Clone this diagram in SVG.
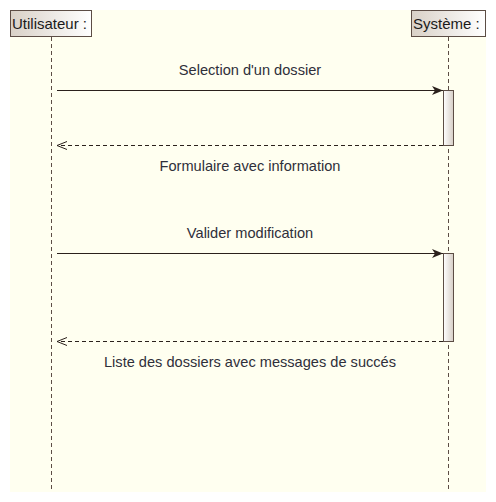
<svg xmlns="http://www.w3.org/2000/svg" width="496" height="502" viewBox="0 0 496 502">
<defs>
<linearGradient id="hdr" x1="0" y1="0" x2="1" y2="0">
<stop offset="0" stop-color="#d9d1c7"/>
<stop offset="1" stop-color="#ffffff"/>
</linearGradient>
<linearGradient id="act" x1="0" y1="0" x2="1" y2="0">
<stop offset="0" stop-color="#ffffff"/>
<stop offset="1" stop-color="#d6cec6"/>
</linearGradient>
<marker id="filled" markerWidth="12" markerHeight="10" refX="11" refY="5" orient="auto" markerUnits="userSpaceOnUse">
<path d="M0,0.5 L11,5 L0,9.5 L3,5 Z" fill="#2b211c"/>
</marker>
<marker id="open" markerWidth="12" markerHeight="10" refX="11" refY="5" orient="auto" markerUnits="userSpaceOnUse">
<path d="M1,1 L11,5 L1,9" fill="none" stroke="#2b211c" stroke-width="1"/>
</marker>
</defs>
<style>
.lbl{font-family:"Liberation Sans",Arial,sans-serif;font-size:14.6px;fill:#2f2f3a;text-anchor:middle}
.hd{font-family:"Liberation Sans",Arial,sans-serif;font-size:15px;fill:#1a1a1a}
.life{stroke:#5c4d45;stroke-width:1;stroke-dasharray:4,3;fill:none}
.msg{stroke:#2b211c;stroke-width:1.2;fill:none}
.ret{stroke:#2b211c;stroke-width:1;stroke-dasharray:4,3;fill:none}
.box{fill:url(#hdr);stroke:#5c4d45;stroke-width:1}
.bar{fill:url(#act);stroke:#5c4d45;stroke-width:1}
</style>
<rect x="0" y="0" width="496" height="502" fill="#ffffff"/>
<rect x="10" y="10" width="476" height="482" fill="#fffff0"/>
<g id="lifelines">
<line class="life" x1="51.5" y1="37" x2="51.5" y2="492"/>
<line class="life" x1="448.5" y1="37" x2="448.5" y2="492"/>
</g>
<g id="utilisateur">
<rect class="box" x="10.5" y="10.5" width="81" height="26"/>
<text class="hd" x="12" y="28.5">Utilisateur :</text>
</g>
<g id="systeme">
<rect class="box" x="411.5" y="10.5" width="74" height="26"/>
<text class="hd" x="413" y="28.5">Système :</text>
</g>
<g id="activations">
<rect class="bar" x="443.5" y="90.5" width="10" height="55"/>
<rect class="bar" x="443.5" y="253.5" width="10" height="88"/>
</g>
<g id="connectors">
<line class="msg" x1="57" y1="90.5" x2="443" y2="90.5" marker-end="url(#filled)"/>
<line class="ret" x1="443" y1="145.5" x2="57" y2="145.5" marker-end="url(#open)"/>
<line class="msg" x1="57" y1="253.5" x2="443" y2="253.5" marker-end="url(#filled)"/>
<line class="ret" x1="443" y1="341.5" x2="57" y2="341.5" marker-end="url(#open)"/>
</g>
<g id="labels">
<text class="lbl" x="250" y="75">Selection d'un dossier</text>
<text class="lbl" x="250" y="171">Formulaire avec information</text>
<text class="lbl" x="250" y="238">Valider modification</text>
<text class="lbl" x="250" y="367">Liste des dossiers avec messages de succés</text>
</g>
</svg>
